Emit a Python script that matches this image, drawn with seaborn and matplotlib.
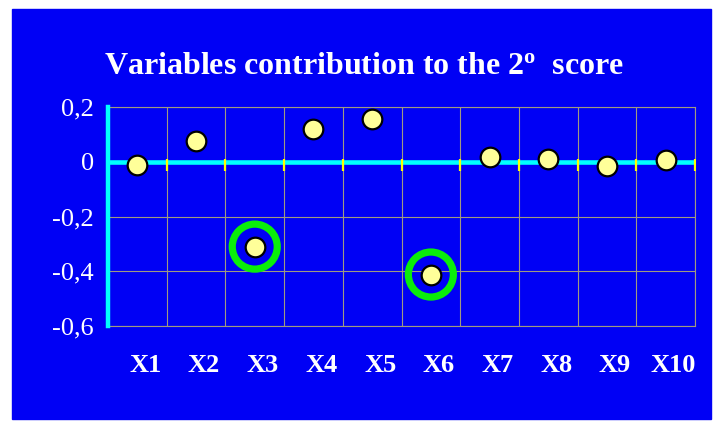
import numpy as np
import pandas as pd
import seaborn as sns
import matplotlib.pyplot as plt
import matplotlib.transforms as mtransforms
from matplotlib.patches import Rectangle

# data
variables = ['X1', 'X2', 'X3', 'X4', 'X5', 'X6', 'X7', 'X8', 'X9', 'X10']
contribution = [-0.012, 0.076, -0.310, 0.120, 0.156, -0.412, 0.017, 0.010, -0.017, 0.005]
highlighted = ['X3', 'X6']
y_ticks = [0.2, 0, -0.2, -0.4, -0.6]
y_labels = ['0,2', '0', '-0,2', '-0,4', '-0,6']

blue = '#0000f5'
cyan = '#00ffff'
green = '#0aee0a'
grid_col = '#a09a80'

sns.set_style('white')
plt.rcParams['font.family'] = ['Liberation Serif', 'DejaVu Serif']
plt.rcParams['mathtext.fontset'] = 'custom'
plt.rcParams['mathtext.rm'] = 'Liberation Serif:bold'
plt.rcParams['mathtext.it'] = 'Liberation Serif:bold'

df = pd.DataFrame({'variable': variables, 'contribution': contribution})

fig = plt.figure(figsize=(7.19, 4.24), dpi=100)
fig.patch.set_facecolor('white')
fig.patches.append(Rectangle((12/719, 5/424), 699/719, 410/424,
                             transform=fig.transFigure, color=blue, zorder=-5))

ax = fig.add_axes([108/719, 1-326/424, 587/719, 219/424])
ax.set_facecolor(blue)

sns.scatterplot(data=df, x='variable', y='contribution', ax=ax,
                s=200, color='#ffff99', edgecolor='black', linewidth=1.6, zorder=6)
sns.scatterplot(data=df[df['variable'].isin(highlighted)], x='variable', y='contribution',
                ax=ax, s=1050, facecolor='none', edgecolor=green, linewidth=5.2, zorder=5)

n = len(variables)
edges = np.arange(n + 1) - 0.5
ax.set_xlim(edges[0], edges[-1])
ax.set_ylim(min(y_ticks), max(y_ticks))

# grid
ax.set_xticks(edges, minor=True)
ax.set_yticks(y_ticks)
ax.set_yticklabels(y_labels)
ax.grid(True, which='minor', axis='x', color=grid_col, lw=0.8)
ax.grid(True, which='major', axis='y', color=grid_col, lw=0.8)
ax.set_axisbelow(True)

# zero line with yellow ticks hanging just below it
ax.axhline(0, color=cyan, lw=3.3, zorder=3)
down = ax.transData + mtransforms.ScaledTranslation(0, -3/100, fig.dpi_scale_trans)
ax.plot(edges, np.zeros(len(edges)), '|', color='yellow', ms=8, mew=1.6,
        zorder=4, transform=down)

for s in ['top', 'right', 'bottom']:
    ax.spines[s].set_color(grid_col)
    ax.spines[s].set_linewidth(0.8)
ax.spines['left'].set_color(cyan)
ax.spines['left'].set_linewidth(3.2)
ax.spines['left'].set_zorder(4)

ax.tick_params(axis='y', colors='yellow', length=5, width=1.2, pad=5,
               labelcolor='white', labelsize=19)
ax.tick_params(axis='x', which='major', length=0, pad=20,
               labelcolor='white', labelsize=19)
ax.tick_params(axis='x', which='minor', length=0)
for lab in ax.get_xticklabels():
    lab.set_fontweight('bold')
    lab.set_transform(lab.get_transform() +
                      mtransforms.ScaledTranslation(8/100, 0, fig.dpi_scale_trans))
ax.set_xlabel('')
ax.set_ylabel('')

fig.text(364/719, 1-66/424, r'Variables contribution to the $2^{\mathrm{o}}$  score',
         color='white', fontsize=23, fontweight='bold', ha='center', va='center')

fig.savefig('out.png', dpi=100)
